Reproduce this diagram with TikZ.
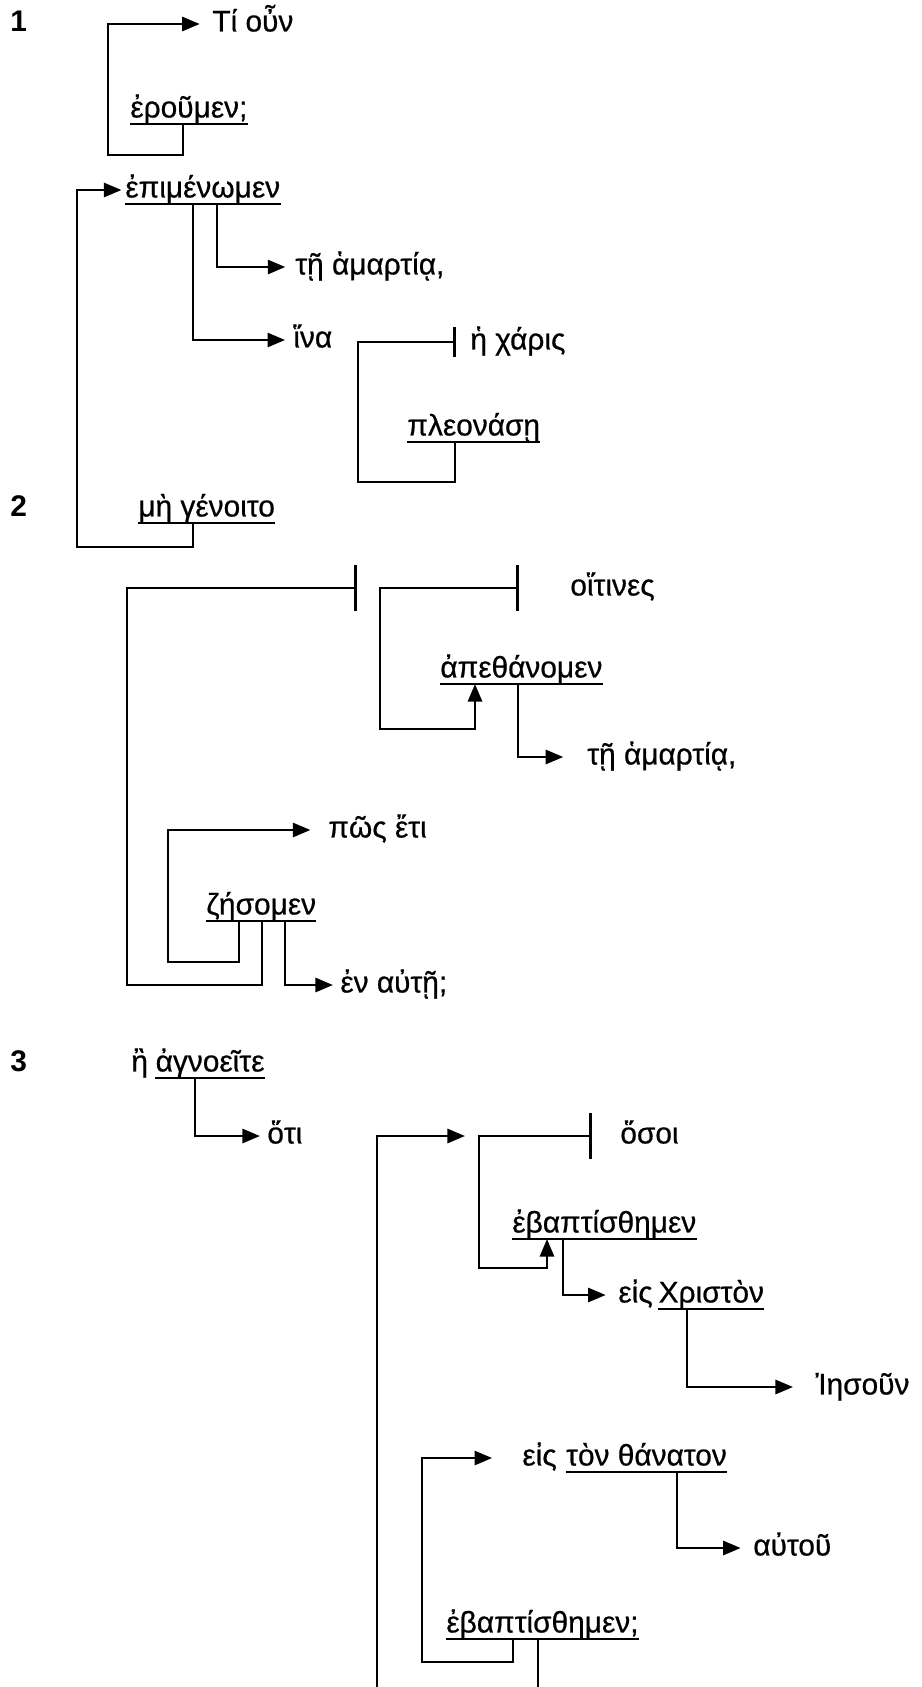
\documentclass[tikz,border=0pt]{standalone}
\usepackage{fontspec}
\setmainfont{Liberation Sans}
\newfontfamily\gk{Liberation Sans}[FakeBold=0.6]
\usetikzlibrary{arrows.meta,positioning}
\tikzset{
  word/.style={font=\gk\fontsize{17}{20}\selectfont, inner sep=0pt, anchor=west,
    text height=12pt, text depth=3.5pt},
  ul/.style={word, append after command={(\tikzlastnode.south west)
    edge[draw, line width=1.3pt, -] (\tikzlastnode.south east)}},
  num/.style={word, font=\fontsize{17}{20}\selectfont\bfseries},
  link/.style={line width=1.5pt},
  arr/.style={link, -{Triangle[length=10pt,width=8pt]}, shorten >=4pt},
  stoparr/.style={link, {Bar[width=26pt]}-{Triangle[length=10pt,width=8pt]}},
}
\begin{document}
\begin{tikzpicture}[x=0.02cm, y=-0.02cm]
  \useasboundingbox (0,0) rectangle (921,1687);
  % section 1
  \node[num] (n1) at (10,24) {1};
  \node[word] (tioun) at (212,24) {Τί οὖν};
  \node[ul] (eroumen) at (130,110) {ἐροῦμεν;};
  \node[ul] (epimen) at (125,190) {ἐπιμένωμεν};
  \node[word] (tei1) at (295,267) {τῇ ἁμαρτίᾳ,};
  \node[word] (hina) at (293,340) {ἵνα};
  \node[word] (charis) at (470,342) {ἡ χάρις};
  \node[ul] (pleon) at (407,428) {πλεονάσῃ};
  % section 2
  \node[num] (n2) at (10,509) {2};
  \node[ul] (megen) at (138,509) {μὴ γένοιτο};
  \node[word] (hoitines) at (570,588) {οἵτινες};
  \node[ul] (apeth) at (440,670) {ἀπεθάνομεν};
  \node[word] (tei2) at (587,757) {τῇ ἁμαρτίᾳ,};
  \node[word] (pos) at (328,830) {πῶς ἔτι};
  \node[ul] (zes) at (206,907) {ζήσομεν};
  \node[word] (enaute) at (340,985) {ἐν αὐτῇ;};
  % section 3
  \node[num] (n3) at (10,1064) {3};
  \node[word] (e) at (131,1064) {ἢ};
  \node[ul, right=4pt of e] (agn) {ἀγνοεῖτε};
  \node[word] (hoti) at (267,1136) {ὅτι};
  \node[word] (hosoi) at (620,1136) {ὅσοι};
  \node[ul] (ebapt1) at (512,1225) {ἐβαπτίσθημεν};
  \node[word] (eis1) at (618,1295) {εἰς};
  \node[ul, right=3pt of eis1] (christ) {Χριστὸν};
  \node[word] (iesoun) at (815,1387) {Ἰησοῦν};
  \node[word] (eis2) at (522,1458) {εἰς};
  \node[ul, right=5pt of eis2] (thanat) {τὸν θάνατον};
  \node[word] (autou) at (753,1548) {αὐτοῦ};
  \node[ul] (ebapt2) at (446,1625) {ἐβαπτίσθημεν;};

  % corners
  \coordinate (c1l) at (108,155);
  \coordinate (c1r) at (183,155);
  \coordinate (c2l) at (77,547);
  \coordinate (c2r) at (193,547);
  \coordinate (c3) at (217,267);
  \coordinate (c4) at (193,340);
  \coordinate (c5l) at (358,482);
  \coordinate (c5r) at (455,482);
  \coordinate (c6l) at (127,985);
  \coordinate (c6r) at (262,985);
  \coordinate (s2) at (357,588);
  \coordinate (c7l) at (380,729);
  \coordinate (c7r) at (475,729);
  \coordinate (c8) at (518,757);
  \coordinate (c9l) at (168,962);
  \coordinate (c9r) at (239,962);
  \coordinate (c10) at (285,985);
  \coordinate (c11) at (195,1136);
  \coordinate (s3b) at (377,1687);
  \coordinate (s3a) at (465,1136);
  \coordinate (c13l) at (479,1268);
  \coordinate (c13r) at (547,1268);
  \coordinate (c14) at (563,1295);
  \coordinate (c15) at (687,1387);
  \coordinate (c16l) at (422,1662);
  \coordinate (c16r) at (513,1662);
  \coordinate (c17) at (677,1548);
  \coordinate (c18) at (538,1687);

  % connectors
  \draw[arr, shorten >=7pt] (eroumen.south -| c1r) -- (c1r) -- (c1l) |- (tioun.west);
  \draw[arr, shorten >=2pt] (megen.south -| c2r) -- (c2r) -- (c2l) |- (epimen.west);
  \draw[arr, shorten >=5.5pt] (epimen.south -| c3) |- (tei1.west);
  \draw[arr, shorten >=4.5pt] (epimen.south -| c4) |- (hina.west);
  \draw[stoparr, {Bar[width=17pt]}-, shorten <=8pt] (charis.west) -| (c5l) -- (c5r) -- (pleon.south -| c5r);
  \draw[link, -{Bar[width=26pt]}] (zes.south -| c6r) -- (c6r) -- (c6l) |- (s2);
  \draw[stoparr, shorten <=29pt] (hoitines.west) -| (c7l) -- (c7r) -- (apeth.south -| c7r);
  \draw[arr, shorten >=13.5pt] (apeth.south -| c8) |- (tei2.west);
  \draw[arr, shorten >=10pt] (zes.south -| c9r) -- (c9r) -- (c9l) |- (pos.west);
  \draw[arr] (zes.south -| c10) |- (enaute.west);
  \draw[arr] (agn.south -| c11) |- (hoti.west);
  \draw[arr, shorten >=0pt] (s3b) |- (s3a);
  \draw[stoparr, shorten <=16pt] (hosoi.west) -| (c13l) -- (c13r) -- (ebapt1.south -| c13r);
  \draw[arr, shorten >=7pt] (ebapt1.south -| c14) |- (eis1.west);
  \draw[arr, shorten >=12.5pt] (christ.south -| c15) |- (iesoun.west);
  \draw[arr, shorten >=17pt] (ebapt2.south -| c16r) -- (c16r) -- (c16l) |- (eis2.west);
  \draw[arr, shorten >=7pt] (thanat.south -| c17) |- (autou.west);
  \draw[link] (ebapt2.south -| c18) -- (c18);
\end{tikzpicture}
\end{document}
